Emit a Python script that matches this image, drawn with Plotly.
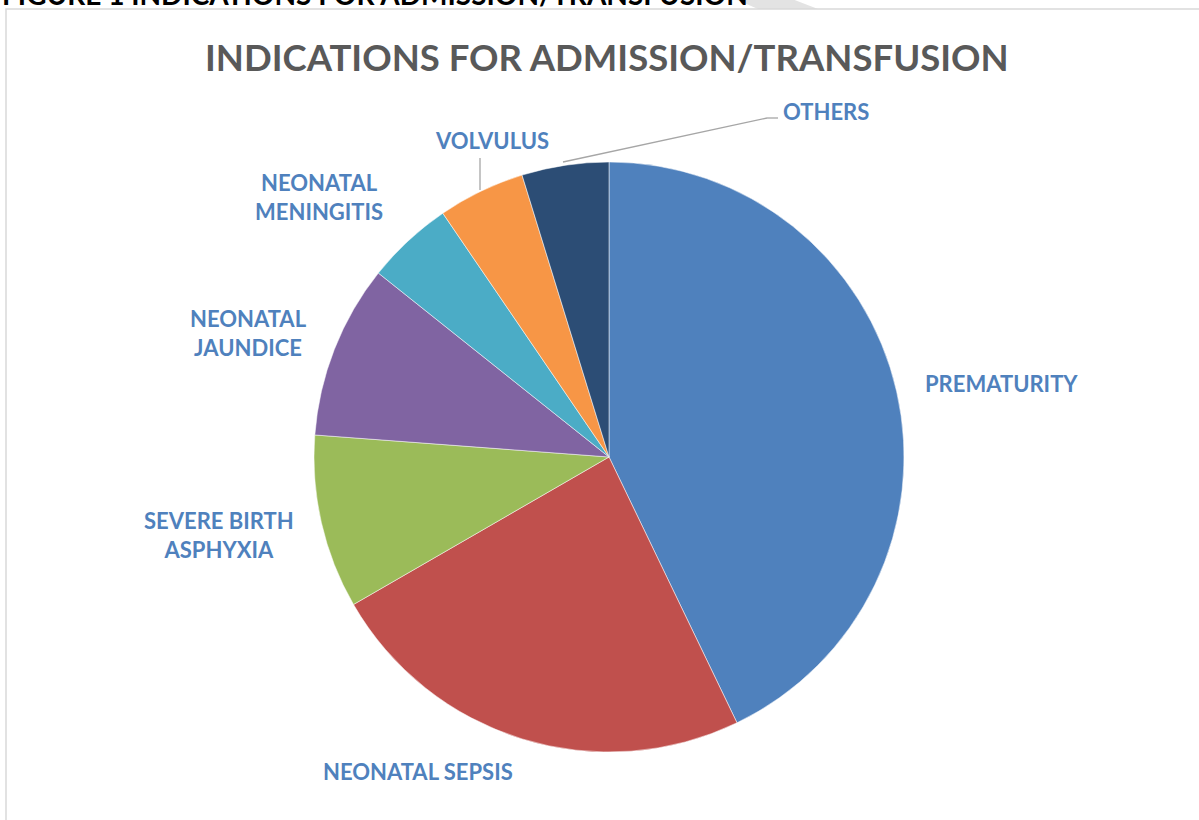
import plotly.graph_objects as go

W, H = 1199, 820

categories = ["PREMATURITY", "NEONATAL SEPSIS", "SEVERE BIRTH<br>ASPHYXIA", "NEONATAL<br>JAUNDICE",
              "NEONATAL<br>MENINGITIS", "VOLVULUS", "OTHERS"]
values = [9, 5, 2, 2, 1, 1, 1]
colors = ["#4F81BD", "#C0504D", "#9BBB59", "#8064A2", "#4BACC6", "#F79646", "#2C4D75"]

# label anchor positions (pixels) for each category
label_px = [(1001, 383), (418, 771), (219, 535), (248, 333), (319, 197), (492, 141), (826, 111)]


def px(x, y):
    return x / W, 1 - y / H


cx, cy, r = 609, 457, 295
x0, _ = px(cx - r, 0)
x1, _ = px(cx + r, 0)
_, ytop = px(0, cy - r)
_, ybot = px(0, cy + r)

fig = go.Figure(go.Pie(
    labels=categories, values=values, sort=False, direction="clockwise", rotation=0,
    marker=dict(colors=colors, line=dict(color="rgba(255,255,255,0.5)", width=1)),
    textinfo="none", hoverinfo="label+value", showlegend=False,
    domain=dict(x=[x0, x1], y=[ybot, ytop]),
))

annotations = []
for lab, (lx, ly) in zip(categories, label_px):
    ax, ay = px(lx, ly)
    annotations.append(dict(x=ax, y=ay, xref="paper", yref="paper", text=f"<b>{lab}</b>",
                            showarrow=False, font=dict(family="Lato", size=22, color="#4F81BD"),
                            xanchor="center", yanchor="middle", align="center"))

tx, ty = px(607, 57)
annotations.append(dict(x=tx, y=ty, xref="paper", yref="paper",
                        text="<b>INDICATIONS FOR ADMISSION/TRANSFUSION</b>", showarrow=False,
                        font=dict(family="Lato", size=36.5, color="#595959"),
                        xanchor="center", yanchor="middle"))
fx, fy = px(0, -6)
annotations.append(dict(x=fx, y=fy, xref="paper", yref="paper",
                        text="<b>FIGURE 1 INDICATIONS FOR ADMISSION/TRANSFUSION</b>", showarrow=False,
                        font=dict(family="Lato", size=28, color="#000000"),
                        xanchor="left", yanchor="middle"))

shapes = []
# faint watermark stroke at the top
wm = [px(735, -1), px(792, -1), px(818, 9), px(758, 9)]
path = "M " + " L ".join(f"{a},{b}" for a, b in wm) + " Z"
shapes.append(dict(type="path", xref="paper", yref="paper", path=path,
                   fillcolor="#E3E3E3", line=dict(width=0), layer="below"))
# chart frame
bx0, by0 = px(6, 9)
shapes.append(dict(type="rect", xref="paper", yref="paper", x0=bx0, y0=-0.02, x1=1.02, y1=by0,
                   line=dict(color="#D9D9D9", width=1.5), fillcolor="rgba(0,0,0,0)", layer="below"))


def seg(a, b):
    (xa, ya), (xb, yb) = px(*a), px(*b)
    return dict(type="line", xref="paper", yref="paper", x0=xa, y0=ya, x1=xb, y1=yb,
                line=dict(color="#A6A6A6", width=1.3))


# leader lines
shapes.append(seg((480, 190), (480, 158)))
shapes.append(seg((563, 162), (767, 118)))
shapes.append(seg((767, 118), (778, 118)))

fig.update_layout(width=W, height=H, margin=dict(l=0, r=0, t=0, b=0),
                  paper_bgcolor="white", plot_bgcolor="white",
                  annotations=annotations, shapes=shapes)

fig.write_html("out.html", config={"displayModeBar": False},
               post_script="document.body.style.margin='0';")
